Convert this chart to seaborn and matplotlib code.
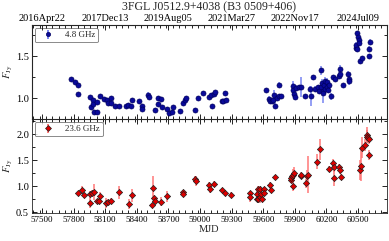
import numpy as np
import pandas as pd
import matplotlib
matplotlib.use('Agg')
import matplotlib.pyplot as plt
from matplotlib.ticker import MultipleLocator, FixedLocator
import seaborn as sns

title = '3FGL J0512.9+4038 (B3 0509+406)'
mjd_ticks = [57500, 57800, 58100, 58400, 58700, 59000, 59300, 59600, 59900, 60200, 60500]
top_ticks = [57500, 58100, 58700, 59300, 59900, 60500]
top_labels = ['2016Apr22', '2017Dec13', '2019Aug05', '2021Mar27', '2022Nov17', '2024Jul09']

# 4.8 GHz
mjd_c = [57776, 57814, 57840, 57842, 57960, 57967, 57986, 57988, 57992, 58024,
         58018, 58049, 58087, 58119, 58125, 58151, 58153, 58198, 58233, 58297,
         58316, 58341, 58354, 58418, 58449, 58451, 58506, 58513, 58570, 58602,
         58604, 58634, 58640, 58691, 58710, 58735, 58741, 58811, 58843, 58856,
         58868, 58957, 58983, 59027, 59084, 59103, 59110, 59135, 59141, 59205,
         59218, 59237, 59243, 59630, 59656, 59668, 59681, 59691, 59700, 59713,
         59726, 59745, 59751, 59764, 59878, 59884, 59891, 59897, 59910, 59935,
         59961, 59999, 60043, 60056, 60075, 60088, 60119, 60132, 60145, 60151,
         60157, 60164, 60170, 60177, 60183, 60189, 60202, 60208, 60215, 60227,
         60246, 60259, 60284, 60316, 60329, 60331, 60354, 60405, 60411, 60418,
         60481, 60482, 60488, 60494, 60500, 60507, 60513, 60519, 60538, 60602,
         60608, 60615]
flux_c = [1.23, 1.19, 1.15, 1.05, 1.01, 0.89, 0.98, 0.93, 0.84, 0.84,
          0.95, 1.02, 0.99, 0.98, 0.94, 1.00, 0.94, 0.90, 0.90, 0.90,
          0.92, 0.91, 0.98, 0.96, 0.90, 0.87, 1.04, 1.01, 0.86, 1.00,
          0.93, 0.99, 0.89, 0.87, 0.82, 0.84, 0.89, 0.85, 0.94, 0.98,
          1.00, 0.86, 1.00, 1.06, 1.01, 1.04, 0.90, 1.05, 1.07, 0.96,
          0.97, 1.06, 0.98, 1.10, 0.99, 0.97, 0.96, 0.98, 1.04, 0.91,
          1.00, 1.16, 1.02, 1.03, 1.14, 1.10, 1.05, 1.01, 1.12, 1.13,
          1.13, 1.02, 1.11, 1.02, 1.25, 1.11, 1.13, 1.09, 1.33, 1.13,
          1.18, 1.09, 1.06, 1.15, 1.20, 1.11, 1.19, 1.13, 1.10, 1.15,
          1.02, 1.25, 1.23, 1.26, 1.35, 1.29, 1.15, 1.29, 1.23, 1.20,
          1.60, 1.63, 1.58, 1.77, 1.73, 1.69, 1.66, 1.44, 1.48, 1.50,
          1.59, 1.67]
err_c = [0.01, 0.01, 0.02, 0.01, 0.02, 0.03, 0.02, 0.02, 0.02, 0.02,
         0.02, 0.02, 0.02, 0.02, 0.02, 0.03, 0.02, 0.02, 0.01, 0.01,
         0.02, 0.02, 0.02, 0.02, 0.02, 0.02, 0.03, 0.02, 0.02, 0.02,
         0.02, 0.02, 0.02, 0.02, 0.02, 0.02, 0.02, 0.02, 0.03, 0.03,
         0.02, 0.02, 0.02, 0.02, 0.02, 0.02, 0.02, 0.03, 0.02, 0.02,
         0.02, 0.02, 0.02, 0.02, 0.03, 0.02, 0.02, 0.02, 0.06, 0.03,
         0.02, 0.03, 0.03, 0.02, 0.06, 0.08, 0.05, 0.03, 0.03, 0.03,
         0.12, 0.02, 0.03, 0.12, 0.03, 0.03, 0.03, 0.03, 0.05, 0.04,
         0.05, 0.04, 0.12, 0.05, 0.05, 0.05, 0.05, 0.04, 0.03, 0.03,
         0.04, 0.03, 0.03, 0.03, 0.04, 0.03, 0.02, 0.03, 0.04, 0.04,
         0.03, 0.04, 0.03, 0.03, 0.04, 0.04, 0.03, 0.03, 0.02, 0.03,
         0.03, 0.03]

# 23.6 GHz
mjd_k = [57840, 57884, 57897, 57954, 57960, 57979, 57992, 58018, 58043, 58049,
         58106, 58125, 58151, 58233, 58322, 58354, 58545, 58551, 58564, 58570,
         58627, 58691, 58837, 58843, 58957, 58964, 59084, 59091, 59135, 59205,
         59237, 59294, 59472, 59478, 59542, 59544, 59548, 59554, 59567, 59573,
         59580, 59586, 59605, 59607, 59668, 59670, 59707, 59859, 59865, 59872,
         59884, 59886, 59891, 59954, 59961, 60005, 60018, 60024, 60113, 60138,
         60227, 60265, 60267, 60272, 60323, 60329, 60342, 60519, 60532, 60538,
         60570, 60583, 60589, 60596, 60602, 60608]
flux_k = [0.86, 0.92, 0.82, 0.68, 0.85, 0.87, 0.88, 0.71, 0.71, 0.81,
          0.67, 0.69, 0.72, 0.88, 0.66, 0.82, 0.63, 0.97, 0.77, 0.72,
          0.70, 0.80, 0.88, 0.85, 1.14, 1.10, 1.02, 0.95, 1.04, 0.92,
          0.86, 0.83, 0.86, 0.78, 0.85, 0.76, 0.94, 0.76, 0.78, 0.94,
          0.85, 0.76, 0.94, 0.86, 1.02, 0.92, 1.17, 1.11, 1.16, 1.20,
          1.22, 1.01, 1.25, 1.20, 1.22, 1.05, 1.20, 1.22, 1.47, 1.71,
          1.33, 1.44, 1.37, 1.16, 1.37, 1.31, 1.18, 1.31, 1.39, 1.74,
          1.79, 1.99, 1.95, 1.92, 1.90, 1.60]
err_k = [0.03, 0.08, 0.05, 0.10, 0.06, 0.06, 0.15, 0.05, 0.06, 0.08,
         0.10, 0.06, 0.05, 0.13, 0.10, 0.12, 0.03, 0.22, 0.06, 0.05,
         0.08, 0.10, 0.05, 0.04, 0.06, 0.10, 0.06, 0.08, 0.06, 0.05,
         0.05, 0.05, 0.05, 0.08, 0.06, 0.04, 0.07, 0.06, 0.10, 0.06,
         0.05, 0.05, 0.05, 0.04, 0.06, 0.05, 0.05, 0.06, 0.05, 0.06,
         0.10, 0.10, 0.12, 0.05, 0.06, 0.08, 0.10, 0.35, 0.15, 0.20,
         0.06, 0.08, 0.10, 0.15, 0.06, 0.08, 0.05, 0.20, 0.30, 0.20,
         0.12, 0.15, 0.12, 0.10, 0.10, 0.10]

sns.set_style('ticks')
plt.rcParams['font.family'] = 'serif'
plt.rcParams['font.serif'] = ['Liberation Serif', 'DejaVu Serif']
plt.rcParams['mathtext.fontset'] = 'stix'
plt.rcParams['xtick.direction'] = 'in'
plt.rcParams['ytick.direction'] = 'in'
plt.rcParams['xtick.color'] = 'black'
plt.rcParams['ytick.color'] = 'black'

df_c = pd.DataFrame({'mjd': mjd_c, 'flux': flux_c, 'err': err_c})
df_k = pd.DataFrame({'mjd': mjd_k, 'flux': flux_k, 'err': err_k})

fig = plt.figure(figsize=(3.89, 2.41), dpi=100)
ax1 = fig.add_axes([0.082, 0.506, 0.913, 0.390])
ax2 = fig.add_axes([0.082, 0.116, 0.913, 0.390])

panels = [
    (ax1, df_c, '4.8 GHz', 'o', 13, '#0a0a9a', '#000060', '#6f7cf0', (0.75, 1.87)),
    (ax2, df_k, '23.6 GHz', 'D', 10, '#dd0000', '#202020', '#ff7070', (0.48, 2.29)),
]
for ax, d, lab, mk, sz, fc, ec, bc, yl in panels:
    ax.errorbar(d['mjd'], d['flux'], yerr=d['err'], fmt='none', ecolor=bc,
                elinewidth=1.3, alpha=0.8, zorder=2)
    sns.scatterplot(data=d, x='mjd', y='flux', ax=ax, marker=mk, s=sz,
                    color=fc, edgecolor=ec, linewidth=0.5, legend=False, zorder=3)
    ax.errorbar([np.nan], [np.nan], yerr=[0.1], fmt=mk, color=fc, mec=ec,
                mew=0.5, ms=3, ecolor=bc, elinewidth=1.3, label=lab)
    ax.set_xlim(57405, 60775)
    ax.set_ylim(*yl)
    ax.xaxis.set_major_locator(FixedLocator(mjd_ticks))
    ax.xaxis.set_minor_locator(MultipleLocator(60))
    ax.yaxis.set_major_locator(MultipleLocator(0.5))
    ax.yaxis.set_minor_locator(MultipleLocator(0.25))
    ax.set_ylabel(r'$F_{\rm Jy}$', fontsize=7.5, labelpad=1)
    ax.tick_params(which='both', top=True, right=True, width=0.6)
    ax.tick_params(axis='y', labelsize=7.5, pad=2)
    ax.tick_params(axis='x', labelsize=6.5, pad=2)
    ax.tick_params(which='major', length=3.5)
    ax.tick_params(which='minor', length=2)
    for s in ax.spines.values():
        s.set_linewidth(0.6)
    leg = ax.legend(loc='upper left', fontsize=6.5, frameon=True, fancybox=True,
                    edgecolor='#555555', handlelength=2.2, borderpad=0.35,
                    borderaxespad=0.3)
    leg.get_frame().set_linewidth(0.6)

ax1.tick_params(labelbottom=False)
ax1.tick_params(axis='x', which='both', top=False)
ax1.set_xlabel('')
ax2.set_xlabel('MJD', fontsize=7.5, labelpad=1)

top = ax1.twiny()
top.set_xlim(ax1.get_xlim())
top.set_xticks(top_ticks)
top.set_xticklabels(top_labels)
top.xaxis.set_minor_locator(MultipleLocator(60))
top.tick_params(which='both', direction='in', width=0.6)
top.tick_params(which='major', labelsize=7.5, pad=1.5, length=3.5)
top.tick_params(which='minor', length=2)
top.set_title(title, fontsize=8.5, pad=2.5)

fig.savefig('out.png', dpi=100)
